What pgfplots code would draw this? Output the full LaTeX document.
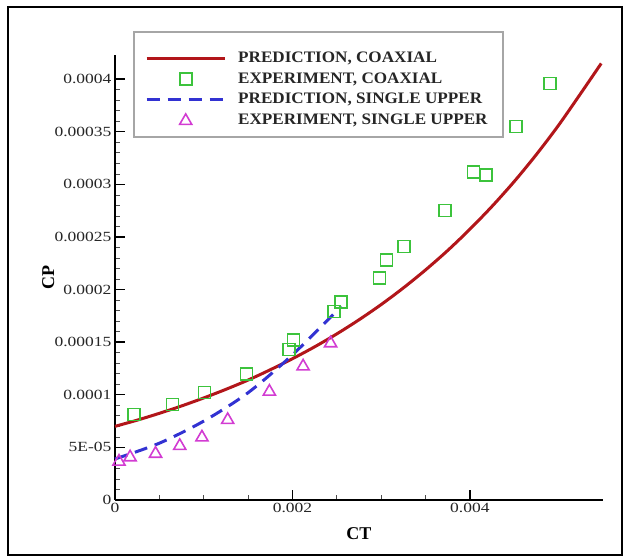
\documentclass[border=0pt]{standalone}
\usepackage{fontspec}
\setmainfont{Liberation Serif}
\newfontfamily\tickfont[FakeStretch=1.25]{Liberation Serif}
\newfontfamily\legfont[FakeStretch=1.07]{Liberation Serif}
\usepackage{pgfplots}
\pgfplotsset{compat=1.18}
\definecolor{cred}{RGB}{178,22,26}
\definecolor{cgreen}{RGB}{60,195,60}
\definecolor{cblue}{RGB}{50,50,210}
\definecolor{cmag}{RGB}{210,60,210}
\begin{document}
\begin{tikzpicture}
\useasboundingbox (-115pt,-57pt) rectangle (512pt,500pt);
\draw[line width=1.6pt] (-107pt,-55pt) rectangle (507pt,493pt);
\begin{axis}[
  scale only axis, width=488pt, height=445pt,
  xmin=0, xmax=0.0055, ymin=0, ymax=0.000423,
  axis x line=bottom, axis y line=left,
  axis line style={-, line width=1.6pt},
  tick align=inside,
  major tick length=10pt, minor tick length=5pt,
  every major tick/.append style={line width=1.4pt, black},
  every minor tick/.append style={line width=0.7pt, black!70},
  scaled ticks=false,
  xtick={0,0.002,0.004}, xticklabels={0,0.002,0.004},
  minor x tick num=3,
  ytick={0,0.00005,0.0001,0.00015,0.0002,0.00025,0.0003,0.00035,0.0004},
  yticklabels={0,5E-05,0.0001,0.00015,0.0002,0.00025,0.0003,0.00035,0.0004},
  minor y tick num=4,
  ticklabel style={font=\tickfont\fontsize{14}{15}\selectfont, text=black!85},
  xlabel={CT}, ylabel={CP},
  xlabel style={font=\bfseries\fontsize{18}{20}\selectfont, at={(axis description cs:0.5,-0.075)}, anchor=center},
  ylabel style={font=\bfseries\fontsize{18}{20}\selectfont, at={(axis description cs:-0.137,0.5)}, anchor=center},
  legend style={at={(axis description cs:0.0615,1.009)}, anchor=north west,
    draw=none, fill=none,
    font=\legfont\bfseries\fontsize{16}{18}\selectfont,
    inner xsep=0pt, inner ysep=0pt, row sep=6.9pt, column sep=12pt,
    nodes={inner sep=0pt, text height=11pt, text depth=3pt},
    text=black!85},
  legend cell align=left,
  legend image code/.code={\draw[mark repeat=2,mark phase=2,#1] plot coordinates {(0pt,0pt) (39pt,0pt) (78pt,0pt)};},
  clip=false,
]
\draw[black!35, line width=1.2pt] (axis description cs:0.0389,1.0517) rectangle (axis description cs:0.795,0.8157);
\addplot[cred, line width=3pt, smooth] coordinates {
(0,7.0e-5) (0.00025,7.59e-5) (0.0005,8.24e-5) (0.00075,8.94e-5) (0.001,9.70e-5)
(0.00125,10.52e-5) (0.0015,11.40e-5) (0.00175,12.38e-5) (0.002,13.43e-5)
(0.00225,14.56e-5) (0.0025,15.79e-5) (0.00275,17.13e-5) (0.003,18.58e-5)
(0.00325,20.16e-5) (0.0035,21.87e-5) (0.00375,23.72e-5) (0.004,25.74e-5)
(0.00425,27.92e-5) (0.0045,30.28e-5) (0.00475,32.85e-5) (0.005,35.63e-5)
(0.00525,38.66e-5) (0.00548,41.5e-5)};
\addlegendentry{PREDICTION, COAXIAL}
\addplot[only marks, mark=square, mark size=6pt, cgreen, line width=1.6pt] coordinates {
(0.000215,8.12e-5) (0.00065,9.06e-5) (0.00101,10.2e-5) (0.00148,12.0e-5)
(0.00196,14.3e-5) (0.00201,15.2e-5) (0.00247,17.9e-5) (0.00255,18.8e-5)
(0.00298,21.1e-5) (0.00306,22.8e-5) (0.00326,24.1e-5) (0.00372,27.5e-5)
(0.00404,31.2e-5) (0.00418,30.9e-5) (0.00452,35.5e-5) (0.00490,39.6e-5)};
\addlegendentry{EXPERIMENT, COAXIAL}
\addplot[cblue, line width=3pt, dash pattern=on 13pt off 8pt, smooth] coordinates {
(0,3.9e-5) (0.0005,5.4e-5) (0.001,7.5e-5) (0.0015,10.2e-5) (0.002,13.8e-5) (0.00255,18.4e-5)};
\addlegendentry{PREDICTION, SINGLE UPPER}
\addplot[only marks, mark=triangle, mark size=7pt, cmag, line width=1.6pt] coordinates {
(0.000045,3.65e-5) (0.00017,4.06e-5) (0.000457,4.4e-5) (0.00073,5.14e-5)
(0.00098,5.95e-5) (0.00127,7.61e-5) (0.00174,10.3e-5) (0.00212,12.7e-5) (0.00243,14.9e-5)};
\addlegendentry{EXPERIMENT, SINGLE UPPER}
\end{axis}
\end{tikzpicture}
\end{document}
